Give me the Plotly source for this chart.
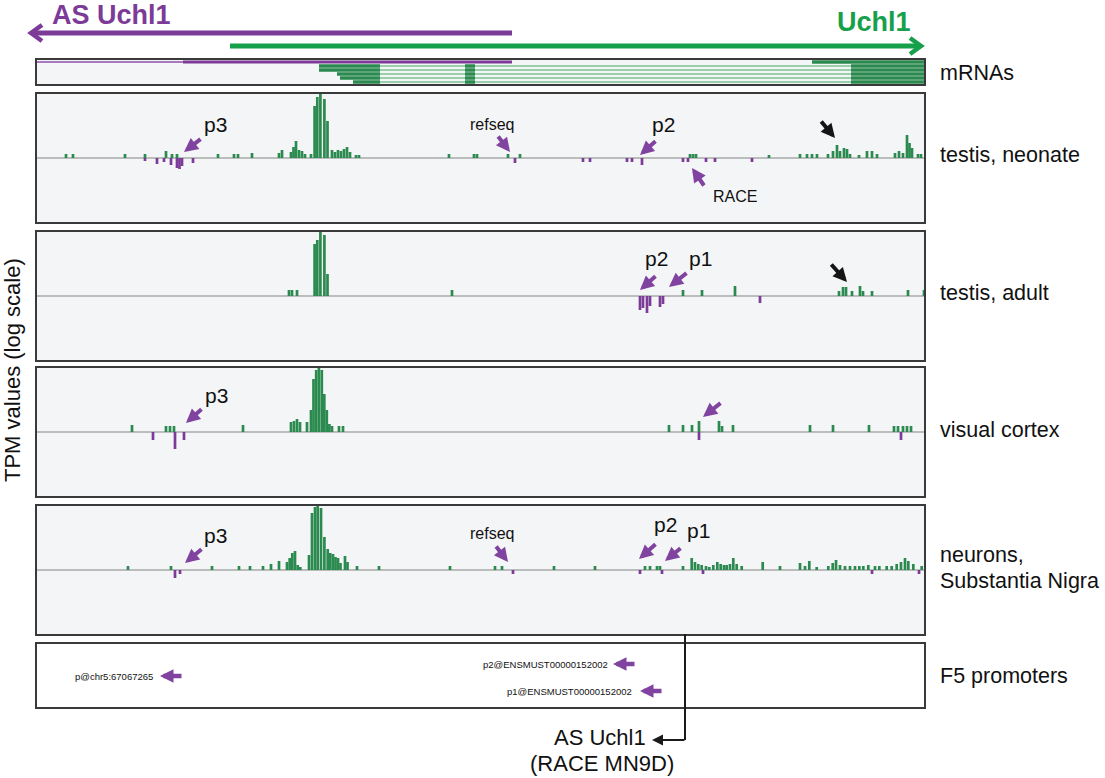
import plotly.graph_objects as go

W, H = 1105, 778


def px(x):
    return x / W


def py(y):
    return 1 - y / H


FONT = "Liberation Sans, Arial, sans-serif"
GREEN = "#2b8a4f"
PURPLE = "#7b3b97"
ARROW_PURPLE = "#8043a0"
HEAD_GREEN = "#17a04b"
INTRON_GREEN = "#7cc293"
FRAME = "#3a3a3a"
PANEL_BG = "#f4f5f7"

# ---------------- data (positions along the locus, bin units) ----------------
X_MIN, X_MAX = 36, 925
BAR_W = 2.7

# testis, neonate
neo_sense_x = [66, 73, 125, 145, 166, 172, 177, 218, 234, 238,
               252, 279, 282, 291, 293.5, 296, 299, 302, 305, 311,
               314.6, 317.3, 320.4, 324.4, 327.5, 332, 335, 338, 341, 344,
               347, 350, 356, 359, 449, 474, 477, 508, 520, 690,
               693, 696, 769, 800, 807, 812, 817, 828, 833, 837,
               840, 844, 847, 850, 859, 867, 872, 877, 895, 899,
               903, 907, 909.5, 912, 918, 921]
neo_sense_v = [4, 4, 4, 4, 7, 4, 4, 4, 4, 4,
               5, 5, 8, 6, 11, 17, 8, 7, 4, 4,
               52, 61, 65, 59, 37, 8, 6, 8, 7, 9,
               11, 6, 3, 3, 4, 4, 4, 4, 4, 4,
               4, 4, 3, 4, 4, 4, 4, 4, 7, 13,
               7, 10, 9, 4, 3, 7, 7, 4, 5, 7,
               5, 23, 15, 10, 4, 4]
neo_anti_x = [145, 157, 164, 171, 177, 179.5, 182, 193, 515, 583,
              590, 627, 632, 642, 683, 688, 706, 715, 752]
neo_anti_v = [-3, -6, -4, -7, -10, -11, -8, -5, -5, -4,
              -4, -4, -4, -7, -4, -4, -4, -4, -4]

# testis, adult
adu_sense_x = [289, 292, 297, 314.6, 317.3, 320.4, 324.4, 327.5, 452, 683,
               702, 735, 839, 843, 846, 852, 860, 863, 872, 908, 924]
adu_sense_v = [6, 6, 6, 52, 56, 64, 61, 22, 6, 6,
               6, 10, 5, 9, 9, 5, 10, 5, 5, 6, 6]
adu_anti_x = [640, 643, 647, 650, 660, 663, 760]
adu_anti_v = [-14, -12, -17, -10, -11, -8, -7]

# visual cortex
vis_sense_x = [132, 166, 170, 174, 243, 291, 294, 297, 300, 307,
               311, 313.5, 316.2, 318.9, 321.8, 324.3, 326.8, 329.4, 332, 339,
               343, 669, 683, 692, 699, 719, 722, 733, 810, 833,
               869, 894, 898, 903, 907, 911]
vis_sense_v = [7, 6, 6, 6, 7, 10, 11, 13, 10, 10,
               22, 53, 62, 64, 62, 38, 22, 8, 6, 6,
               6, 7, 7, 7, 11, 11, 6, 7, 7, 7,
               7, 6, 6, 6, 6, 6]
vis_anti_x = [153, 175, 184, 699, 901]
vis_anti_v = [-8, -17, -8, -8, -8]

# neurons, Substantia Nigra
neu_sense_x = [128, 171, 212, 239, 250, 263, 271, 279, 287, 289.7,
               292.3, 295, 297.7, 300.3, 309, 312, 315, 317.7, 321, 324.4,
               327.7, 330.3, 333, 335.5, 338, 340.5, 345, 347.5, 357, 379,
               450, 495, 502, 554, 595, 645, 650, 657, 660, 683,
               691.7, 695, 698.3, 701.7, 706, 709.3, 713.3, 717.3, 720.7, 724,
               726.7, 730, 733.3, 736.7, 741.7, 762.7, 780, 800, 805, 809.3,
               816.7, 828.3, 832.7, 836, 840, 845, 850, 855, 859.3, 863.3,
               868.3, 875, 879.3, 886.7, 891.7, 896.7, 901, 905, 908.3, 913.3,
               921.7]
neu_sense_v = [4, 4, 4, 4, 4, 4, 6, 9, 8, 12,
               17, 19, 5, 3, 15, 57, 63, 65, 62, 33,
               21, 17, 16, 13, 12, 7, 14, 8, 4, 4,
               4, 4, 4, 4, 4, 4, 4, 4, 4, 4,
               12, 8, 6, 5, 4, 3, 5, 8, 6, 5,
               5, 6, 12, 6, 4, 8, 4, 7, 4, 9,
               3, 4, 7, 10, 5, 4, 4, 4, 4, 4,
               5, 4, 4, 4, 4, 6, 8, 12, 9, 6,
               4]
neu_anti_x = [175, 180, 513, 640, 662, 703, 872, 919]
neu_anti_v = [-8, -4, -4, -4, -4, -4, -4, -4]

# mRNA models (row index, start, end)
as_mrna_thin = (0, 36, 183)
as_mrna_thick = (0, 183, 512)
uchl1_short = (0, 812, 925)
uchl1_rows = [1, 2, 3, 4, 5]
uchl1_starts = [319, 319, 337, 340, 353]
uchl1_end = 925
uchl1_exons = [(None, 380), (465, 475), (851, 925)]

track_names = ["testis, neonate", "testis, adult", "visual cortex", "neurons"]
panel_top = [93, 231, 367, 505]
panel_bottom = [223, 361, 497, 635]
V_MAX = 65

# ---------------- figure ----------------
fig = go.Figure()
layout = dict(
    width=W, height=H, margin=dict(l=0, r=0, t=0, b=0),
    paper_bgcolor="white", plot_bgcolor="rgba(0,0,0,0)",
    showlegend=False, barmode="overlay",
    font=dict(family=FONT, color="#111111"),
)

tracks = [
    (neo_sense_x, neo_sense_v, neo_anti_x, neo_anti_v),
    (adu_sense_x, adu_sense_v, adu_anti_x, adu_anti_v),
    (vis_sense_x, vis_sense_v, vis_anti_x, vis_anti_v),
    (neu_sense_x, neu_sense_v, neu_anti_x, neu_anti_v),
]

shapes = []
for i, (sx, sv, ax_, av) in enumerate(tracks):
    n = i + 1
    xa = "x" if n == 1 else f"x{n}"
    ya = "y" if n == 1 else f"y{n}"
    fig.add_trace(go.Bar(x=sx, y=sv, width=BAR_W, marker=dict(color=GREEN, line=dict(width=0)),
                         xaxis=xa, yaxis=ya, name=track_names[i] + " +"))
    fig.add_trace(go.Bar(x=ax_, y=av, width=BAR_W, marker=dict(color=PURPLE, line=dict(width=0)),
                         xaxis=xa, yaxis=ya, name=track_names[i] + " -"))
    layout["xaxis" if n == 1 else f"xaxis{n}"] = dict(
        domain=[px(X_MIN), px(X_MAX)], range=[X_MIN, X_MAX], visible=False,
        anchor=ya, fixedrange=True)
    layout["yaxis" if n == 1 else f"yaxis{n}"] = dict(
        domain=[py(panel_bottom[i]), py(panel_top[i])], range=[-V_MAX, V_MAX],
        visible=False, anchor=xa, fixedrange=True)
    shapes.append(dict(type="rect", xref="paper", yref="paper", layer="below",
                       x0=px(X_MIN), x1=px(X_MAX), y0=py(panel_bottom[i]), y1=py(panel_top[i]),
                       fillcolor=PANEL_BG, line=dict(width=0)))
    shapes.append(dict(type="line", xref=xa, yref=ya, layer="below",
                       x0=X_MIN, x1=X_MAX, y0=0, y1=0, line=dict(color="#a9a9a9", width=1.5)))
    shapes.append(dict(type="rect", xref="paper", yref="paper", layer="above",
                       x0=px(X_MIN), x1=px(X_MAX), y0=py(panel_bottom[i]), y1=py(panel_top[i]),
                       fillcolor="rgba(0,0,0,0)", line=dict(color=FRAME, width=2)))

# mRNA track (axis 5)
MR_TOP, MR_BOTTOM = 59, 85
layout["xaxis5"] = dict(domain=[px(X_MIN), px(X_MAX)], range=[X_MIN, X_MAX], visible=False,
                        anchor="y5", fixedrange=True)
layout["yaxis5"] = dict(domain=[py(MR_BOTTOM), py(MR_TOP)], range=[5.75, -0.75],
                        visible=False, anchor="x5", fixedrange=True)
shapes.append(dict(type="rect", xref="paper", yref="paper", layer="below",
                   x0=px(X_MIN), x1=px(X_MAX), y0=py(MR_BOTTOM), y1=py(MR_TOP),
                   fillcolor=PANEL_BG, line=dict(width=0)))
shapes.append(dict(type="rect", xref="paper", yref="paper", layer="above",
                   x0=px(X_MIN), x1=px(X_MAX), y0=py(MR_BOTTOM), y1=py(MR_TOP),
                   fillcolor="rgba(0,0,0,0)", line=dict(color=FRAME, width=2)))

r, a, b = as_mrna_thin
fig.add_trace(go.Scatter(x=[a, b], y=[r, r], mode="lines", line=dict(color="#8e4fab", width=1.5),
                         xaxis="x5", yaxis="y5", hoverinfo="skip"))
r, a, b = as_mrna_thick
fig.add_trace(go.Scatter(x=[a, b], y=[r, r], mode="lines", line=dict(color=PURPLE, width=3),
                         xaxis="x5", yaxis="y5", hoverinfo="skip"))
ix, iy, ex, ey = [], [], [], []
for row, st in zip(uchl1_rows, uchl1_starts):
    ix += [st, uchl1_end, None]
    iy += [row, row, None]
    for e0, e1 in uchl1_exons:
        e0 = st if e0 is None else e0
        ex += [e0, e1, None]
        ey += [row, row, None]
r, a, b = uchl1_short
ex += [a, b, None]
ey += [r, r, None]
fig.add_trace(go.Scatter(x=ix, y=iy, mode="lines", line=dict(color=INTRON_GREEN, width=1.5),
                         xaxis="x5", yaxis="y5", hoverinfo="skip", connectgaps=False))
fig.add_trace(go.Scatter(x=ex, y=ey, mode="lines", line=dict(color=GREEN, width=3.5),
                         xaxis="x5", yaxis="y5", hoverinfo="skip", connectgaps=False))

# F5 promoters box
F5_TOP, F5_BOTTOM = 643, 708
shapes.append(dict(type="rect", xref="paper", yref="paper", layer="above",
                   x0=px(X_MIN), x1=px(X_MAX), y0=py(F5_BOTTOM), y1=py(F5_TOP),
                   fillcolor="rgba(0,0,0,0)", line=dict(color=FRAME, width=2)))

# header arrows
shapes.append(dict(type="line", xref="paper", yref="paper", x0=px(512), x1=px(32), y0=py(33), y1=py(33),
                   line=dict(color=PURPLE, width=5)))
shapes.append(dict(type="path", xref="paper", yref="paper",
                   path=f"M {px(42)},{py(25)} L {px(31)},{py(33)} L {px(42)},{py(41)}",
                   line=dict(color=PURPLE, width=4.5)))
shapes.append(dict(type="line", xref="paper", yref="paper", x0=px(230), x1=px(920), y0=py(46), y1=py(46),
                   line=dict(color=HEAD_GREEN, width=5)))
shapes.append(dict(type="path", xref="paper", yref="paper",
                   path=f"M {px(910)},{py(38)} L {px(921)},{py(46)} L {px(910)},{py(54)}",
                   line=dict(color=HEAD_GREEN, width=4.5)))

# connector to RACE label
shapes.append(dict(type="line", xref="paper", yref="paper", x0=px(685), x1=px(685), y0=py(634), y1=py(740),
                   line=dict(color="#1a1a1a", width=2)))

layout["shapes"] = shapes

annotations = []


def arrow(hx, hy, tx, ty, color=ARROW_PURPLE, width=4, size=0.7, head=2):
    annotations.append(dict(x=px(hx), y=py(hy), xref="paper", yref="paper",
                            ax=tx - hx, ay=ty - hy, text="", showarrow=True,
                            arrowhead=head, arrowsize=size, arrowwidth=width, arrowcolor=color))


def label(x, y, text, size, xanchor="center", color="#111111", bold=False, angle=0):
    annotations.append(dict(x=px(x), y=py(y), xref="paper", yref="paper",
                            text=f"<b>{text}</b>" if bold else text,
                            showarrow=False, xanchor=xanchor, yanchor="middle", textangle=angle,
                            font=dict(size=size, color=color, family=FONT)))


label(50, 15, "AS Uchl1", 27, xanchor="left", color=PURPLE, bold=True)
label(913, 22, "Uchl1", 27, xanchor="right", color=HEAD_GREEN, bold=True)

LAB = 21.5
label(938, 73, "mRNAs", LAB, xanchor="left")
label(938, 155, "testis, neonate", LAB, xanchor="left")
label(938, 293, "testis, adult", LAB, xanchor="left")
label(938, 430, "visual cortex", LAB, xanchor="left")
label(938, 555, "neurons,", LAB, xanchor="left")
label(938, 581, "Substantia Nigra", LAB, xanchor="left")
label(938, 676, "F5 promoters", LAB, xanchor="left")

label(13, 370, "TPM values (log scale)", 22, angle=-90)

# neonate
label(215, 125, "p3", 21); arrow(184, 152, 202, 138)
label(492, 124, "refseq", 16); arrow(510, 152, 497, 135)
label(663, 125, "p2", 21); arrow(640, 155, 657, 140)
label(735, 196, "RACE", 16); arrow(692, 168, 705, 187)
arrow(835, 138, 820, 120, color="#151515")
# adult
label(656, 258, "p2", 21); arrow(640, 290, 657, 275)
label(700, 258, "p1", 21); arrow(669, 287, 688, 272)
arrow(847, 282, 830, 263, color="#151515")
# visual cortex
label(216, 395, "p3", 21); arrow(186, 423, 203, 408)
arrow(703, 417, 722, 402)
# neurons
label(215, 535, "p3", 21); arrow(185, 563, 203, 548)
label(492, 533, "refseq", 16); arrow(508, 562, 495, 545)
label(665, 524, "p2", 21); arrow(639, 559, 657, 543)
label(698, 530, "p1", 21); arrow(665, 561, 682, 547)

# F5 promoters
label(155, 676, "p@chr5:67067265", 9.5, xanchor="right")
arrow(160, 676, 183, 676, width=4.5, size=0.6)
label(610, 664, "p2@ENSMUST00000152002", 9.5, xanchor="right")
arrow(613, 664, 636, 664, width=4.5, size=0.6)
label(634, 691, "p1@ENSMUST00000152002", 9.5, xanchor="right")
arrow(640, 691, 663, 691, width=4.5, size=0.6)

# RACE MN9D label
arrow(652, 740, 686, 740, color="#1a1a1a", width=2.2, size=1.0)
label(648, 737, "AS Uchl1", 22, xanchor="right")
label(602, 763, "(RACE MN9D)", 22)

layout["annotations"] = annotations
fig.update_layout(**layout)
# remove the default 8px page margin so the figure fills the window exactly
fig.write_html("out.html", config={"displayModeBar": False},
               post_script="document.body.style.margin='0px';")
